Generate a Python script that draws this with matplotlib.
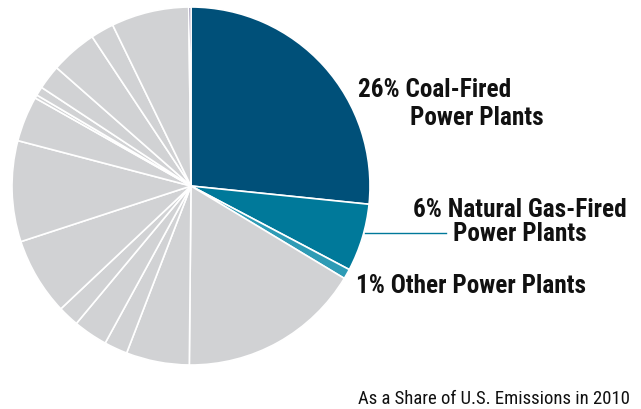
import matplotlib
matplotlib.use('Agg')
import matplotlib.pyplot as plt

'''Colors'''
COAL = '#005079'
GAS = '#00799a'
OTHER = '#2e9bb5'
GRAY = '#d1d2d4'
TINY = '#3b2d6b'

W, H = 641, 410
FONT = ['Roboto Condensed', 'DejaVu Sans']

# shares of U.S. emissions, clockwise from 12 o'clock
shares = [26.6, 6.1, 0.9, 16.5, 5.7, 2.1, 3.1, 1.9, 7.0, 9.1,
          4.1, 0.3, 0.8, 2.2, 4.2, 2.1, 7.0, 0.2]
colors = [COAL, GAS, OTHER] + [GRAY] * 14 + [TINY]

label_lines = ['26% Coal-Fired', 'Power Plants',
               '6% Natural Gas-Fired', 'Power Plants',
               '1% Other Power Plants']
footer = 'As a Share of U.S. Emissions in 2010'

fig = plt.figure(figsize=(W / 100, H / 100), dpi=100)

cx, cy, r = 191, 187, 179
ax = fig.add_axes([(cx - r) / W, (H - cy - r) / H, 2 * r / W, 2 * r / H])
ax.pie(shares, colors=colors, startangle=90, counterclock=False, radius=1,
       wedgeprops=dict(edgecolor='white', linewidth=1.2))
ax.set_xlim(-1, 1)
ax.set_ylim(-1, 1)
ax.set_aspect('equal')
ax.axis('off')


def px_text(x, y, s, **kw):
    '''Place text with pixel coords measured from the top-left corner.'''
    fig.text(x / W, 1 - y / H, s, family=FONT, va='baseline', ha='left',
             color='#111111', **kw)


size = 18.2
px_text(358, 97, label_lines[0], fontsize=size, fontweight='bold')
px_text(410, 125, label_lines[1], fontsize=size, fontweight='bold')
px_text(413, 217, label_lines[2], fontsize=size, fontweight='bold')
px_text(453, 241, label_lines[3], fontsize=size, fontweight='bold')
px_text(356, 293, label_lines[4], fontsize=size, fontweight='bold')
px_text(358, 404, footer, fontsize=13.5)

# leader line for natural gas
fig.add_artist(plt.Line2D([365 / W, 446 / W], [1 - 233.5 / H, 1 - 233.5 / H],
                          color=GAS, linewidth=1))

fig.savefig('out.png', dpi=100)
